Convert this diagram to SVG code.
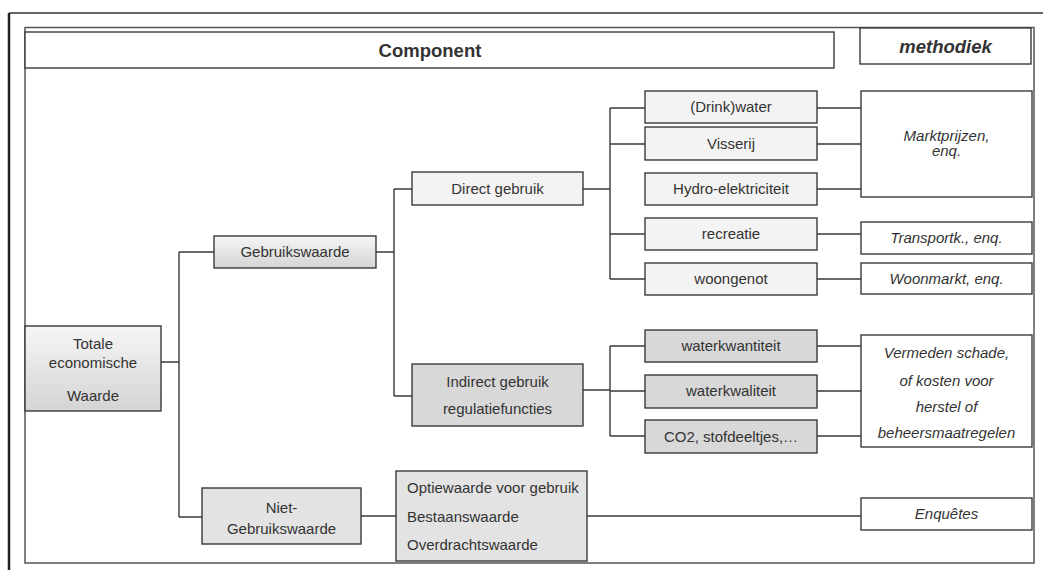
<svg xmlns="http://www.w3.org/2000/svg" width="1043" height="570" viewBox="0 0 1043 570">
  <defs>
    <linearGradient id="gShade" x1="0" y1="0" x2="0" y2="1">
      <stop offset="0" stop-color="#f6f6f6"/>
      <stop offset="1" stop-color="#d4d4d4"/>
    </linearGradient>
    <style>
      .box { stroke: #3a3a3a; stroke-width: 1.4; }
      .light { fill: #f3f3f3; }
      .mid { fill: #e3e3e3; }
      .dark { fill: #d8d8d8; }
      .white { fill: #ffffff; }
      .shade { fill: url(#gShade); }
      .t { font-family: "Liberation Sans", Arial, sans-serif; font-size: 15px; fill: #333333; text-anchor: middle; }
      .ti { font-style: italic; }
      .tl { text-anchor: start; }
      .head { font-family: "Liberation Sans", Arial, sans-serif; font-size: 18.5px; font-weight: bold; fill: #333333; text-anchor: middle; }
      .conn { fill: none; stroke: #3a3a3a; stroke-width: 1.4; }
    </style>
  </defs>

  <rect width="1043" height="570" fill="#ffffff"/>

  <!-- page frame -->
  <g id="frame" fill="none">
    <line x1="9" y1="13" x2="1043" y2="13" stroke="#666666" stroke-width="2"/>
    <line x1="9" y1="13" x2="9" y2="570" stroke="#222222" stroke-width="2.5"/>
    <rect x="25" y="27.5" width="1009" height="535.5" stroke="#555555" stroke-width="1.5"/>
  </g>

  <!-- header cells -->
  <g id="hdr-component">
    <rect class="box white" x="25" y="32" width="809" height="36"/>
    <text class="head" x="430" y="57">Component</text>
  </g>
  <g id="hdr-methodiek">
    <rect class="box white" x="860" y="28" width="171" height="36"/>
    <text class="head ti" x="945.5" y="53">methodiek</text>
  </g>

  <!-- connectors -->
  <g id="connectors" class="conn">
    <path d="M161 362 H179 M179 252 V517 M179 252 H214 M179 517 H202"/>
    <path d="M376 252 H394 M394 189 V396 M394 189 H412 M394 396 H412"/>
    <path d="M583 189 H610 M610 108 V279 M610 108 H645 M610 144 H645 M610 234 H645 M610 279 H645"/>
    <path d="M583 390 H610 M610 346 V436 M610 346 H645 M610 391 H645 M610 436 H645"/>
    <path d="M817 108 H861 M817 144 H861 M817 189 H861 M817 234 H861 M817 279 H861"/>
    <path d="M817 346 H861 M817 391 H861 M817 436 H861"/>
    <path d="M361 516 H396 M587 516 H861"/>
  </g>

  <!-- component tree -->
  <g id="totale">
    <rect class="box shade" x="25" y="326" width="136" height="85"/>
    <text class="t" x="93" y="349">Totale</text>
    <text class="t" x="93" y="368">economische</text>
    <text class="t" x="93" y="401">Waarde</text>
  </g>
  <g id="gebruikswaarde">
    <rect class="box shade" x="214" y="236" width="162" height="32"/>
    <text class="t" x="295" y="257">Gebruikswaarde</text>
  </g>
  <g id="niet-gebruikswaarde">
    <rect class="box mid" x="202" y="488" width="159" height="56"/>
    <text class="t" x="281.5" y="513">Niet-</text>
    <text class="t" x="281.5" y="534">Gebruikswaarde</text>
  </g>
  <g id="direct-gebruik">
    <rect class="box light" x="412" y="172" width="171" height="33"/>
    <text class="t" x="497.5" y="194">Direct gebruik</text>
  </g>
  <g id="indirect-gebruik">
    <rect class="box dark" x="412" y="364" width="171" height="62"/>
    <text class="t" x="497.5" y="387">Indirect gebruik</text>
    <text class="t" x="497.5" y="414">regulatiefuncties</text>
  </g>

  <g id="drinkwater">
    <rect class="box light" x="645" y="91" width="172" height="32"/>
    <text class="t" x="731" y="112">(Drink)water</text>
  </g>
  <g id="visserij">
    <rect class="box light" x="645" y="127" width="172" height="33"/>
    <text class="t" x="731" y="149">Visserij</text>
  </g>
  <g id="hydro">
    <rect class="box light" x="645" y="173" width="172" height="32"/>
    <text class="t" x="731" y="194">Hydro-elektriciteit</text>
  </g>
  <g id="recreatie">
    <rect class="box light" x="645" y="218" width="172" height="32"/>
    <text class="t" x="731" y="239">recreatie</text>
  </g>
  <g id="woongenot">
    <rect class="box light" x="645" y="263" width="172" height="32"/>
    <text class="t" x="731" y="284">woongenot</text>
  </g>

  <g id="waterkwantiteit">
    <rect class="box dark" x="645" y="330" width="172" height="32"/>
    <text class="t" x="731" y="351">waterkwantiteit</text>
  </g>
  <g id="waterkwaliteit">
    <rect class="box dark" x="645" y="375" width="172" height="33"/>
    <text class="t" x="731" y="396">waterkwaliteit</text>
  </g>
  <g id="co2">
    <rect class="box dark" x="645" y="420" width="172" height="33"/>
    <text class="t" x="731" y="442">CO2, stofdeeltjes,…</text>
  </g>

  <g id="optiewaarde">
    <rect class="box mid" x="396" y="471" width="191" height="90"/>
    <text class="t tl" x="407" y="493">Optiewaarde voor gebruik</text>
    <text class="t tl" x="407" y="522">Bestaanswaarde</text>
    <text class="t tl" x="407" y="550">Overdrachtswaarde</text>
  </g>

  <!-- method column -->
  <g id="marktprijzen">
    <rect class="box white" x="861" y="91" width="171" height="106"/>
    <text class="t ti" x="946.5" y="141">Marktprijzen,</text>
    <text class="t ti" x="946.5" y="156">enq.</text>
  </g>
  <g id="transportk">
    <rect class="box white" x="861" y="222" width="171" height="32"/>
    <text class="t ti" x="946.5" y="243">Transportk., enq.</text>
  </g>
  <g id="woonmarkt">
    <rect class="box white" x="861" y="263" width="171" height="31"/>
    <text class="t ti" x="946.5" y="284">Woonmarkt, enq.</text>
  </g>
  <g id="vermeden">
    <rect class="box white" x="861" y="335" width="171" height="112"/>
    <text class="t ti" x="946.5" y="358">Vermeden schade,</text>
    <text class="t ti" x="946.5" y="386">of kosten voor</text>
    <text class="t ti" x="946.5" y="412">herstel of</text>
    <text class="t ti" x="946.5" y="438">beheersmaatregelen</text>
  </g>
  <g id="enquetes">
    <rect class="box white" x="861" y="498" width="171" height="32"/>
    <text class="t ti" x="946.5" y="519">Enquêtes</text>
  </g>
</svg>
